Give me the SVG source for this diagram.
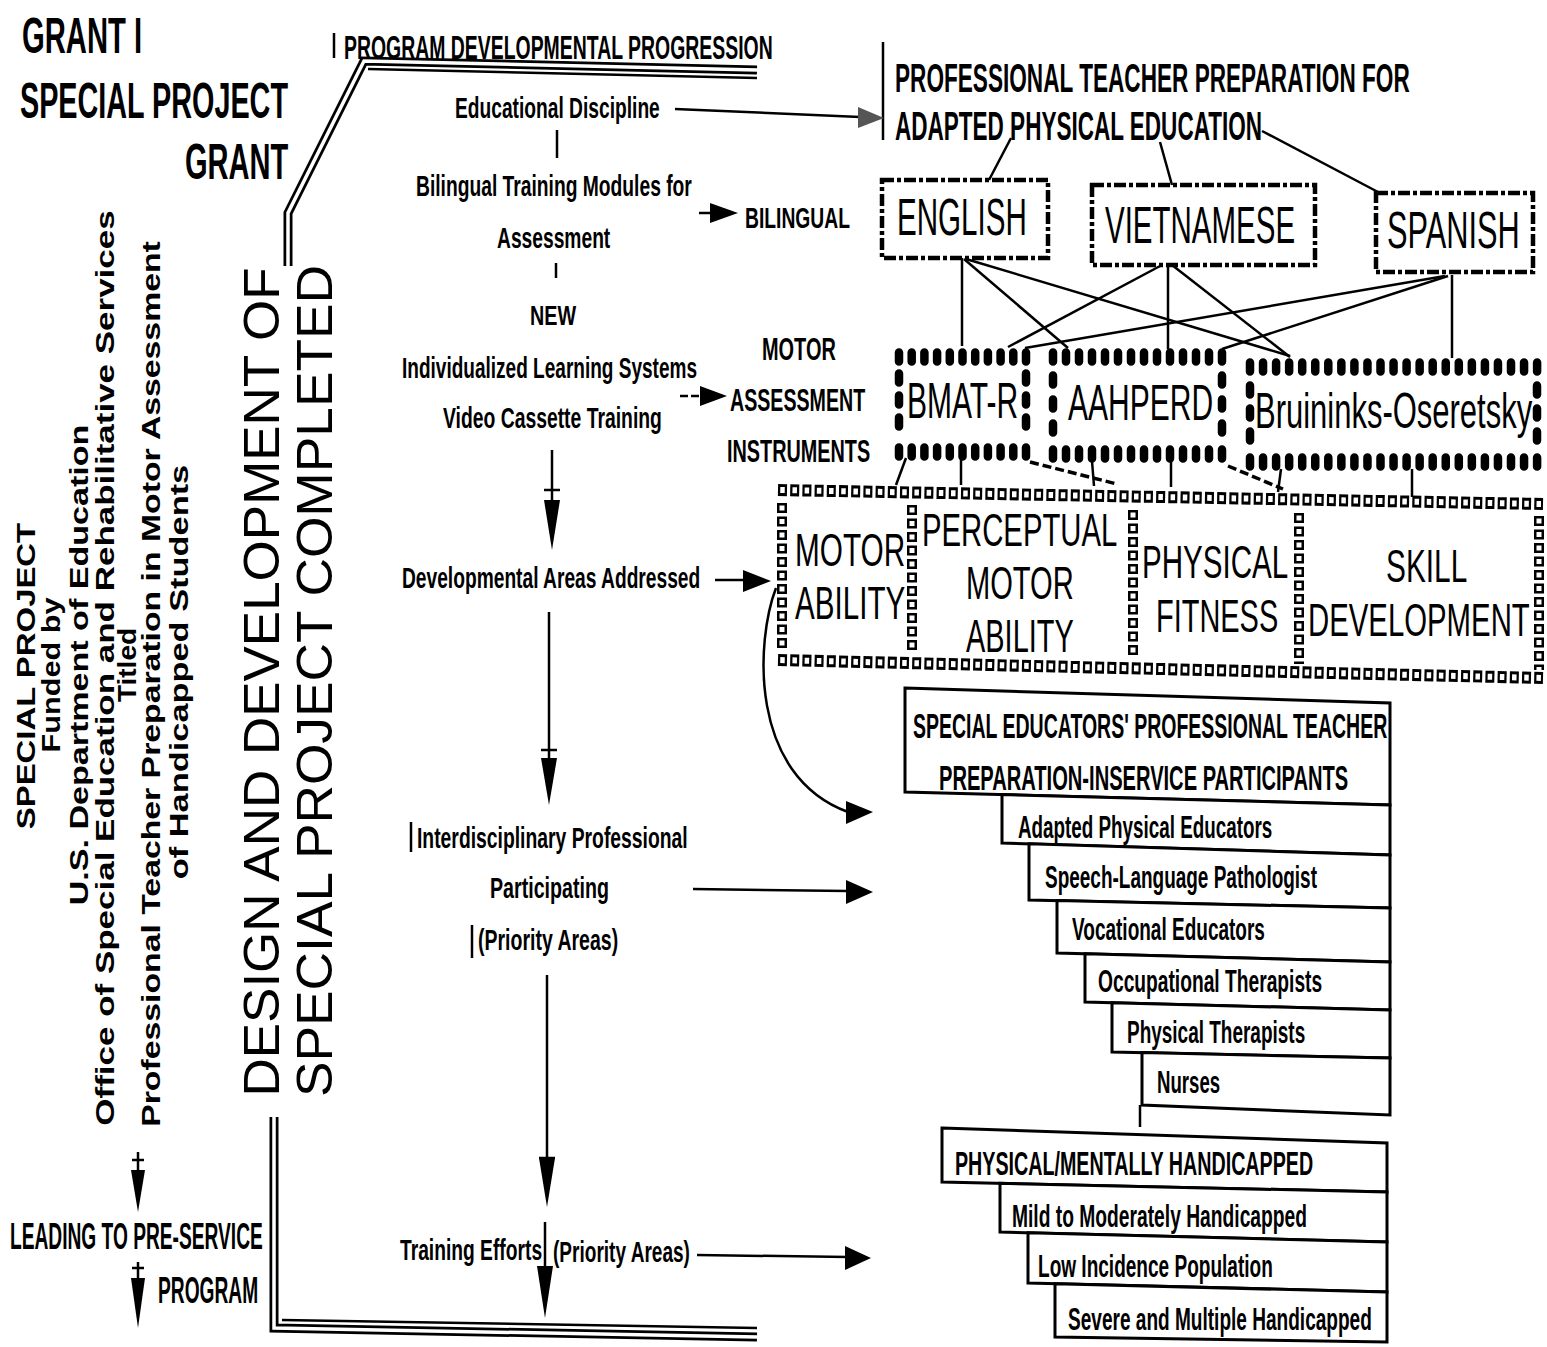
<svg xmlns="http://www.w3.org/2000/svg" width="1547" height="1347" viewBox="0 0 1547 1347">
<defs>
<style>
text{fill:#000}
.c{font-family:"Liberation Sans",Arial,sans-serif;font-weight:bold}
.n{font-family:"Liberation Sans",Arial,sans-serif;font-weight:normal}
.h{font-family:"Liberation Sans",Arial,sans-serif;font-weight:bold}
.d{font-family:"Liberation Sans",Arial,sans-serif;font-weight:normal}
.ln{stroke:#000;stroke-width:2.5;fill:none}
.dl{stroke:#000;stroke-width:3.5;fill:none;stroke-dasharray:9 4}
.ah{fill:#000}
.rail{fill:none;stroke:#000;stroke-width:9}
.railw{fill:none;stroke:#fff;stroke-width:3.5}
.box{fill:#fff;stroke:#000;stroke-width:3}
.lang{fill:none;stroke:#000;stroke-width:4.5;stroke-dasharray:12 3 4 3}
.dots{fill:none;stroke:#000;stroke-width:8.5;stroke-linecap:round}
.sqk{fill:none;stroke:#000;stroke-width:12;stroke-dasharray:9 3.2}
.sqw{fill:none;stroke:#fff;stroke-width:6;stroke-dasharray:4.5 7.7;stroke-dashoffset:-2.25}
.sqkv{fill:none;stroke:#000;stroke-width:10;stroke-dasharray:10 3.5}
.sqwv{fill:none;stroke:#fff;stroke-width:5;stroke-dasharray:5 8.5;stroke-dashoffset:-2.5}
</style>
</defs>
<rect width="1547" height="1347" fill="#fff"/>

<g id="title-grant">
<text class="c" font-size="50" transform="translate(22,53) scale(0.58,1)" textLength="207" lengthAdjust="spacingAndGlyphs">GRANT I</text>
<text class="c" font-size="50" transform="translate(20,118) scale(0.58,1)" textLength="462" lengthAdjust="spacingAndGlyphs">SPECIAL PROJECT</text>
<text class="c" font-size="50" transform="translate(185,179) scale(0.58,1)" textLength="178" lengthAdjust="spacingAndGlyphs">GRANT</text>
</g>

<g id="funding-text">
<text class="h" font-size="25" transform="translate(35,676) rotate(-90) scale(1.35,1)" x="-113.5" textLength="227" lengthAdjust="spacingAndGlyphs">SPECIAL PROJECT</text>
<text class="h" font-size="25" transform="translate(60,675) rotate(-90) scale(1.35,1)" x="-57.5" textLength="115" lengthAdjust="spacingAndGlyphs">Funded by</text>
<text class="h" font-size="25" transform="translate(88,665) rotate(-90) scale(1.35,1)" x="-178" textLength="356" lengthAdjust="spacingAndGlyphs">U.S. Department of Education</text>
<text class="h" font-size="25" transform="translate(114,668) rotate(-90) scale(1.35,1)" x="-339" textLength="678" lengthAdjust="spacingAndGlyphs">Office of Special Education and Rehabilitative Services</text>
<text class="h" font-size="25" transform="translate(136,665) rotate(-90) scale(1.35,1)" x="-27.5" textLength="55" lengthAdjust="spacingAndGlyphs">Titled</text>
<text class="h" font-size="25" transform="translate(160,684) rotate(-90) scale(1.35,1)" x="-328" textLength="656" lengthAdjust="spacingAndGlyphs">Professional Teacher Preparation in Motor Assessment</text>
<text class="h" font-size="25" transform="translate(188,672) rotate(-90) scale(1.35,1)" x="-153.5" textLength="307" lengthAdjust="spacingAndGlyphs">of Handicapped Students</text>
</g>

<g id="design-text">
<text class="d" font-size="50" transform="translate(279,682) rotate(-90)" x="-414.5" textLength="829" lengthAdjust="spacingAndGlyphs">DESIGN AND DEVELOPMENT OF</text>
<text class="d" font-size="50" transform="translate(332,681) rotate(-90)" x="-416" textLength="832" lengthAdjust="spacingAndGlyphs">SPECIAL PROJECT COMPLETED</text>
</g>

<g id="preservice">
<text class="c" font-size="36" transform="translate(10,1249) scale(0.53,1)" textLength="477" lengthAdjust="spacingAndGlyphs">LEADING TO PRE-SERVICE</text>
<text class="c" font-size="36" transform="translate(158,1303) scale(0.53,1)" textLength="189" lengthAdjust="spacingAndGlyphs">PROGRAM</text>
</g>

<g id="progression">
<text class="c" font-size="33" transform="translate(344,59) scale(0.577,1)" textLength="743" lengthAdjust="spacingAndGlyphs">PROGRAM DEVELOPMENTAL PROGRESSION</text>
<text class="c" font-size="30" transform="translate(455,118) scale(0.64,1)" textLength="320" lengthAdjust="spacingAndGlyphs">Educational Discipline</text>
<text class="c" font-size="30" transform="translate(416,196) scale(0.64,1)" textLength="431" lengthAdjust="spacingAndGlyphs">Bilingual Training Modules for</text>
<text class="c" font-size="30" transform="translate(497,248) scale(0.64,1)" textLength="177" lengthAdjust="spacingAndGlyphs">Assessment</text>
<text class="c" font-size="28" transform="translate(530,325) scale(0.64,1)" textLength="72" lengthAdjust="spacingAndGlyphs">NEW</text>
<text class="c" font-size="30" transform="translate(402,378) scale(0.64,1)" textLength="461" lengthAdjust="spacingAndGlyphs">Individualized Learning Systems</text>
<text class="c" font-size="30" transform="translate(443,428) scale(0.64,1)" textLength="342" lengthAdjust="spacingAndGlyphs">Video Cassette Training</text>
<text class="c" font-size="30" transform="translate(402,588) scale(0.64,1)" textLength="466" lengthAdjust="spacingAndGlyphs">Developmental Areas Addressed</text>
<text class="c" font-size="30" transform="translate(417,848) scale(0.64,1)" textLength="423" lengthAdjust="spacingAndGlyphs">Interdisciplinary Professional</text>
<text class="c" font-size="30" transform="translate(490,898) scale(0.64,1)" textLength="186" lengthAdjust="spacingAndGlyphs">Participating</text>
<text class="c" font-size="30" transform="translate(478,950) scale(0.64,1)" textLength="219" lengthAdjust="spacingAndGlyphs">(Priority Areas)</text>
<text class="c" font-size="30" transform="translate(400,1260) scale(0.64,1)" textLength="222" lengthAdjust="spacingAndGlyphs">Training Efforts</text>
<text class="c" font-size="30" transform="translate(553,1262) scale(0.64,1)" textLength="214" lengthAdjust="spacingAndGlyphs">(Priority Areas)</text>
</g>

<g id="bilingual-label">
<text class="c" font-size="30" transform="translate(745,228) scale(0.64,1)" textLength="164" lengthAdjust="spacingAndGlyphs">BILINGUAL</text>
</g>

<g id="motor-assessment-label">
<text class="c" font-size="32" transform="translate(762,360) scale(0.62,1)" textLength="119" lengthAdjust="spacingAndGlyphs">MOTOR</text>
<text class="c" font-size="32" transform="translate(730,411) scale(0.62,1)" textLength="218" lengthAdjust="spacingAndGlyphs">ASSESSMENT</text>
<text class="c" font-size="32" transform="translate(727,462) scale(0.62,1)" textLength="231" lengthAdjust="spacingAndGlyphs">INSTRUMENTS</text>
</g>

<g id="professional-prep">
<line class="ln" x1="883" y1="42" x2="883" y2="140" stroke-width="1.8"/>
<text class="c" font-size="41" transform="translate(895,92) scale(0.547,1)" textLength="941" lengthAdjust="spacingAndGlyphs">PROFESSIONAL TEACHER PREPARATION FOR</text>
<text class="c" font-size="41" transform="translate(895,140) scale(0.547,1)" textLength="671" lengthAdjust="spacingAndGlyphs">ADAPTED PHYSICAL EDUCATION</text>
</g>

<g id="english">
<rect class="lang" x="882" y="180" width="166" height="78"/>
<text class="n" font-size="51" transform="translate(897,235) scale(0.585,1)" textLength="222" lengthAdjust="spacingAndGlyphs">ENGLISH</text>
</g>
<g id="vietnamese">
<rect class="lang" x="1092" y="185" width="223" height="80"/>
<text class="n" font-size="51" transform="translate(1105,243) scale(0.585,1)" textLength="325" lengthAdjust="spacingAndGlyphs">VIETNAMESE</text>
</g>
<g id="spanish">
<rect class="lang" x="1376" y="193" width="157" height="79"/>
<text class="n" font-size="51" transform="translate(1387,248) scale(0.585,1)" textLength="227" lengthAdjust="spacingAndGlyphs">SPANISH</text>
</g>

<g id="bmat-r">
<path class="dots" d="M899,352.5v9m12.7,-9v9m12.7,-9v9m12.7,-9v9m12.7,-9v9m12.7,-9v9m12.7,-9v9m12.7,-9v9m12.7,-9v9m12.7,-9v9m12.7,-9v9 M899,447.5v9m12.7,-9v9m12.7,-9v9m12.7,-9v9m12.7,-9v9m12.7,-9v9m12.7,-9v9m12.7,-9v9m12.7,-9v9m12.7,-9v9m12.7,-9v9 M899,373.5v9M899,395.5v9M899,417.5v9M1026,373.5v9M1026,395.5v9M1026,417.5v9"/>
<text class="n" font-size="50" transform="translate(907,418) scale(0.585,1)" textLength="190" lengthAdjust="spacingAndGlyphs">BMAT-R</text>
</g>
<g id="aahperd">
<path class="dots" d="M1053,352.5v9m13,-9v9m13,-9v9m13,-9v9m13,-9v9m13,-9v9m13,-9v9m13,-9v9m13,-9v9m13,-9v9m13,-9v9m13,-9v9m13,-9v9m13,-9v9 M1053,449.5v9m13,-9v9m13,-9v9m13,-9v9m13,-9v9m13,-9v9m13,-9v9m13,-9v9m13,-9v9m13,-9v9m13,-9v9m13,-9v9m13,-9v9m13,-9v9 M1053,375.5v9M1053,399.5v9M1053,423.5v9M1222,375.5v9M1222,399.5v9M1222,423.5v9"/>
<text class="n" font-size="50" transform="translate(1068,420) scale(0.585,1)" textLength="248" lengthAdjust="spacingAndGlyphs">AAHPERD</text>
</g>
<g id="bruininks-oseretsky">
<path class="dots" d="M1250,362.5v9m13.05,-9v9m13.05,-9v9m13.05,-9v9m13.05,-9v9m13.05,-9v9m13.05,-9v9m13.05,-9v9m13.05,-9v9m13.05,-9v9m13.05,-9v9m13.05,-9v9m13.05,-9v9m13.05,-9v9m13.05,-9v9m13.05,-9v9m13.05,-9v9m13.05,-9v9m13.05,-9v9m13.05,-9v9m13.05,-9v9m13.05,-9v9m13.05,-9v9 M1250,457.5v9m13.05,-9v9m13.05,-9v9m13.05,-9v9m13.05,-9v9m13.05,-9v9m13.05,-9v9m13.05,-9v9m13.05,-9v9m13.05,-9v9m13.05,-9v9m13.05,-9v9m13.05,-9v9m13.05,-9v9m13.05,-9v9m13.05,-9v9m13.05,-9v9m13.05,-9v9m13.05,-9v9m13.05,-9v9m13.05,-9v9m13.05,-9v9m13.05,-9v9 M1250,385.5v9M1250,408.5v9M1250,431.5v9M1537,385.5v9M1537,408.5v9M1537,431.5v9"/>
<text class="n" font-size="50" transform="translate(1255,428) scale(0.62,1)" textLength="447" lengthAdjust="spacingAndGlyphs">Bruininks-Oseretsky</text>
</g>

<g id="developmental-areas">
<path class="sqk" d="M778,490L1543,504M778,660L1543,678"/>
<path class="sqw" d="M778,490L1543,504M778,660L1543,678"/>
<path class="sqkv" d="M782,503V650M912,505V652M1133,510V657M1299,513V664M1539,516V670"/>
<path class="sqwv" d="M782,503V650M912,505V652M1133,510V657M1299,513V664M1539,516V670"/>
</g>
<g id="motor-ability">
<text class="n" font-size="47" transform="translate(795,566) scale(0.63,1)" textLength="175" lengthAdjust="spacingAndGlyphs">MOTOR</text>
<text class="n" font-size="47" transform="translate(795,619) scale(0.63,1)" textLength="175" lengthAdjust="spacingAndGlyphs">ABILITY</text>
</g>
<g id="perceptual-motor-ability">
<text class="n" font-size="47" transform="translate(922,546) scale(0.63,1)" textLength="310" lengthAdjust="spacingAndGlyphs">PERCEPTUAL</text>
<text class="n" font-size="47" transform="translate(966,599) scale(0.63,1)" textLength="171" lengthAdjust="spacingAndGlyphs">MOTOR</text>
<text class="n" font-size="47" transform="translate(966,652) scale(0.63,1)" textLength="171" lengthAdjust="spacingAndGlyphs">ABILITY</text>
</g>
<g id="physical-fitness">
<text class="n" font-size="47" transform="translate(1142,578) scale(0.63,1)" textLength="232" lengthAdjust="spacingAndGlyphs">PHYSICAL</text>
<text class="n" font-size="47" transform="translate(1156,632) scale(0.63,1)" textLength="194" lengthAdjust="spacingAndGlyphs">FITNESS</text>
</g>
<g id="skill-development">
<text class="n" font-size="47" transform="translate(1386,582) scale(0.63,1)" textLength="129" lengthAdjust="spacingAndGlyphs">SKILL</text>
<text class="n" font-size="47" transform="translate(1308,636) scale(0.63,1)" textLength="352" lengthAdjust="spacingAndGlyphs">DEVELOPMENT</text>
</g>

<g id="participants">
<polygon class="box" points="905,688 1390,703 1390,805 905,792"/>
<polygon class="box" points="1002,794.6 1390,805 1390,855 1002,843"/>
<polygon class="box" points="1029,843.8 1390,855 1390,908 1029,900"/>
<polygon class="box" points="1057,900.6 1390,908 1390,962 1057,953"/>
<polygon class="box" points="1085,953.8 1390,962 1390,1010 1085,1002"/>
<polygon class="box" points="1112,1002.7 1390,1010 1390,1058 1112,1052"/>
<polygon class="box" points="1142,1052.6 1390,1058 1390,1115 1142,1105"/>
<text class="c" font-size="35" transform="translate(913,738) scale(0.556,1)" textLength="853" lengthAdjust="spacingAndGlyphs">SPECIAL EDUCATORS' PROFESSIONAL TEACHER</text>
<text class="c" font-size="35" transform="translate(939,790) scale(0.556,1)" textLength="736" lengthAdjust="spacingAndGlyphs">PREPARATION-INSERVICE  PARTICIPANTS</text>
<text class="c" font-size="32" transform="translate(1018,838) scale(0.59,1)" textLength="431" lengthAdjust="spacingAndGlyphs">Adapted Physical Educators</text>
<text class="c" font-size="32" transform="translate(1045,888) scale(0.59,1)" textLength="461" lengthAdjust="spacingAndGlyphs">Speech-Language Pathologist</text>
<text class="c" font-size="32" transform="translate(1072,940) scale(0.59,1)" textLength="327" lengthAdjust="spacingAndGlyphs">Vocational Educators</text>
<text class="c" font-size="32" transform="translate(1098,992) scale(0.59,1)" textLength="380" lengthAdjust="spacingAndGlyphs">Occupational Therapists</text>
<text class="c" font-size="32" transform="translate(1127,1043) scale(0.59,1)" textLength="302" lengthAdjust="spacingAndGlyphs">Physical Therapists</text>
<text class="c" font-size="32" transform="translate(1157,1093) scale(0.59,1)" textLength="107" lengthAdjust="spacingAndGlyphs">Nurses</text>
</g>

<g id="handicapped">
<polygon class="box" points="942,1128 1387,1143 1387,1192 942,1182"/>
<polygon class="box" points="1000,1183.3 1387,1192 1387,1242 1000,1232"/>
<polygon class="box" points="1028,1232.7 1387,1242 1387,1292 1028,1283"/>
<polygon class="box" points="1055,1283.7 1387,1292 1387,1342 1055,1337"/>
<text class="c" font-size="34" transform="translate(955,1175) scale(0.573,1)" textLength="625" lengthAdjust="spacingAndGlyphs">PHYSICAL/MENTALLY HANDICAPPED</text>
<text class="c" font-size="32" transform="translate(1012,1227) scale(0.59,1)" textLength="500" lengthAdjust="spacingAndGlyphs">Mild to Moderately Handicapped</text>
<text class="c" font-size="32" transform="translate(1038,1277) scale(0.59,1)" textLength="398" lengthAdjust="spacingAndGlyphs">Low Incidence Population</text>
<text class="c" font-size="32" transform="translate(1068,1330) scale(0.59,1)" textLength="515" lengthAdjust="spacingAndGlyphs">Severe and Multiple Handicapped</text>
</g>

<g id="connectors">
<path class="rail" d="M288,266 L288,213 L364,61 L757,70"/>
<path class="railw" d="M288,266 L288,213 L364,61 L757,70"/>
<line class="ln" x1="368" y1="69" x2="757" y2="78" stroke-width="2"/>
<path class="rail" d="M274,1117 L274,1328 L757,1337"/>
<path class="railw" d="M274,1117 L274,1328 L757,1337"/>
<line class="ln" x1="282" y1="1320" x2="757" y2="1328" stroke-width="2"/>
<line class="ln" x1="334" y1="33" x2="334" y2="58" stroke-width="1.5"/>

<line class="ln" x1="557" y1="130" x2="557" y2="158"/>
<line class="ln" x1="556" y1="263" x2="556" y2="278"/>
<line class="ln" x1="552" y1="450" x2="552" y2="502"/>
<line class="ln" x1="544" y1="490" x2="560" y2="490" stroke-width="1.5"/>
<polygon class="ah" points="544,500 560,500 552,550"/>
<line class="ln" x1="549" y1="612" x2="549" y2="760"/>
<line class="ln" x1="541" y1="750" x2="557" y2="750" stroke-width="1.5"/>
<polygon class="ah" points="541,758 557,758 549,805"/>
<line class="ln" x1="547" y1="975" x2="547" y2="1160"/>
<line class="ln" x1="539" y1="1158" x2="555" y2="1158" stroke-width="1.5"/>
<polygon class="ah" points="539,1158 555,1158 547,1207"/>
<line class="ln" x1="545" y1="1222" x2="545" y2="1268"/>
<polygon class="ah" points="537,1266 553,1266 545,1318"/>
<line class="ln" x1="411" y1="822" x2="411" y2="852" stroke-width="2"/>
<line class="ln" x1="472" y1="925" x2="472" y2="958" stroke-width="2"/>

<line class="ln" x1="138" y1="1152" x2="138" y2="1172"/>
<line class="ln" x1="132" y1="1160" x2="144" y2="1160" stroke-width="1.5"/>
<polygon class="ah" points="131,1170 145,1170 138,1212"/>
<line class="ln" x1="138" y1="1262" x2="138" y2="1280"/>
<line class="ln" x1="132" y1="1268" x2="144" y2="1268" stroke-width="1.5"/>
<polygon class="ah" points="131,1278 145,1278 138,1328"/>

<line class="ln" x1="675" y1="109" x2="860" y2="117"/>
<polygon points="858,107 884,118 858,128" fill="#555"/>
<line class="ln" x1="699" y1="213" x2="712" y2="213"/>
<polygon class="ah" points="710,203 738,213 710,223"/>
<line class="ln" x1="680" y1="396" x2="702" y2="396" stroke-dasharray="8 3"/>
<polygon class="ah" points="700,386 727,396 700,406"/>
<line class="ln" x1="715" y1="580" x2="745" y2="580"/>
<polygon class="ah" points="743,570 771,581 743,592"/>
<path class="ln" d="M776,588 C756,640 748,775 848,812"/>
<polygon class="ah" points="846,801 873,812 846,824"/>
<line class="ln" x1="693" y1="889" x2="848" y2="891"/>
<polygon class="ah" points="846,880 873,892 846,904"/>
<line class="ln" x1="697" y1="1255" x2="848" y2="1257"/>
<polygon class="ah" points="845,1246 871,1258 845,1270"/>

<line class="ln" x1="1011" y1="138" x2="989" y2="180"/>
<line class="ln" x1="1160" y1="142" x2="1172" y2="185"/>
<line class="ln" x1="1262" y1="131" x2="1378" y2="192"/>

<line class="ln" x1="962" y1="258" x2="962" y2="346"/>
<line class="ln" x1="964" y1="259" x2="1068" y2="348"/>
<line class="ln" x1="966" y1="259" x2="1290" y2="356"/>
<line class="ln" x1="1162" y1="265" x2="1008" y2="347"/>
<line class="ln" x1="1168" y1="265" x2="1168" y2="349"/>
<line class="ln" x1="1172" y1="265" x2="1290" y2="357"/>
<line class="ln" x1="1452" y1="275" x2="1452" y2="358"/>
<line class="ln" x1="1448" y1="276" x2="1222" y2="349"/>
<line class="ln" x1="1445" y1="276" x2="1025" y2="348"/>

<line class="ln" x1="906" y1="458" x2="896" y2="485"/>
<line class="ln" x1="961" y1="458" x2="961" y2="485"/>
<line class="dl" x1="1030" y1="462" x2="1117" y2="484"/>
<line class="ln" x1="1092" y1="461" x2="1094" y2="486"/>
<line class="ln" x1="1171" y1="461" x2="1171" y2="487"/>
<line class="dl" x1="1228" y1="466" x2="1283" y2="489"/>
<line class="ln" x1="1281" y1="469" x2="1278" y2="492"/>
<line class="ln" x1="1412" y1="469" x2="1412" y2="497"/>

<line class="ln" x1="1140" y1="1105" x2="1140" y2="1127" stroke-width="2"/>
</g>
</svg>
